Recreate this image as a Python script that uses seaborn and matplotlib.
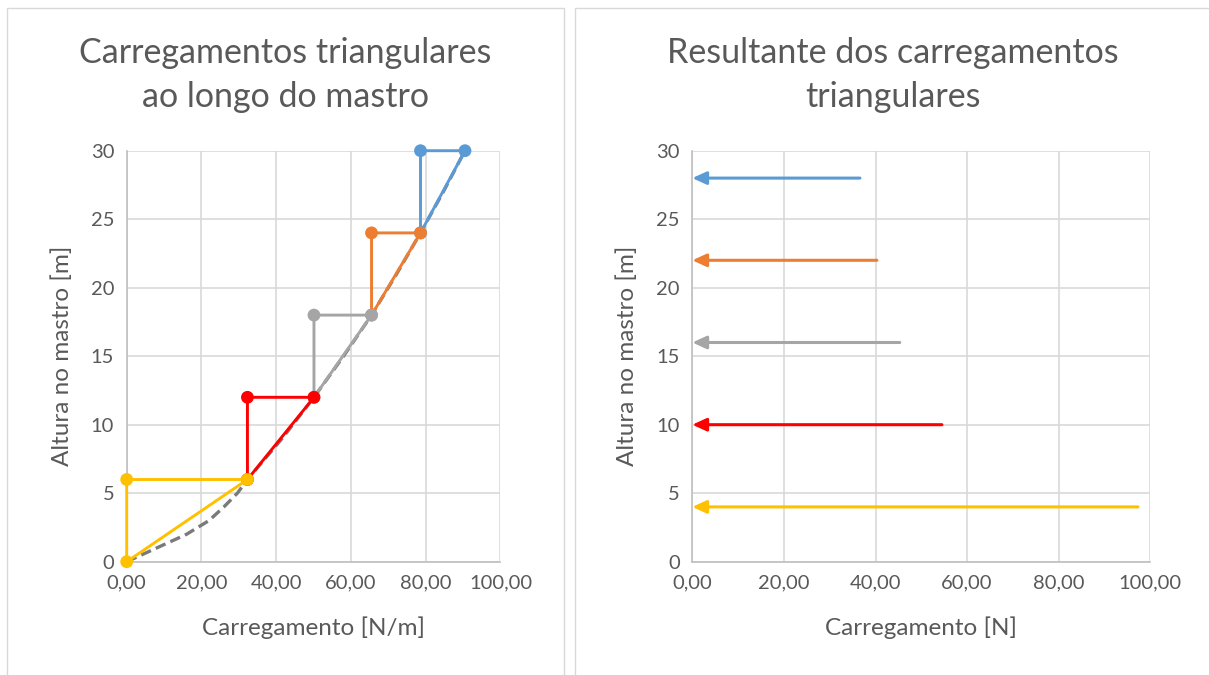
import matplotlib
matplotlib.use("Agg")
import matplotlib.pyplot as plt
from matplotlib.patches import Rectangle
from matplotlib.ticker import FuncFormatter, MultipleLocator
import seaborn as sns
import pandas as pd

# Wind load along the mast, sampled at the segment boundaries
heights = [0, 6, 12, 18, 24, 30]
loads = [0.0, 32.3, 50.1, 65.5, 78.6, 90.5]
segment_colors = ["#FFC000", "#FF0000", "#A5A5A5", "#ED7D31", "#5B9BD5"]

# Continuous load profile (dashed curve)
profile_z = [0, 1, 2, 3, 4, 5, 6, 9, 12, 15, 18, 21, 24, 27, 30]
profile_q = [0.0, 8.0, 16.0, 22.0, 26.0, 29.6, 32.3, 41.6, 50.1, 58.0, 65.5, 72.2, 78.6, 84.7, 90.5]

# Resultant force of each triangular load and its application height
resultant_z = [4, 10, 16, 22, 28]
resultant_f = [97.3, 54.5, 45.3, 40.3, 36.6]

sns.set_theme(style="white")
plt.rcParams["font.family"] = ["Lato", "DejaVu Sans"]
TXT = "#595959"
GRID = "#D9D9D9"
AXIS = "#BFBFBF"

fig = plt.figure(figsize=(12.09, 6.75), dpi=100)
W, H = 1209, 675


def px_axes(x0, x1, y_top, y_bot):
    return fig.add_axes([x0 / W, 1 - y_bot / H, (x1 - x0) / W, (y_bot - y_top) / H])


# Chart panels
for (x0, x1) in [(7, 564), (575, 1213)]:
    fig.patches.append(Rectangle((x0 / W, -0.05), (x1 - x0) / W, (1 - 8 / H) + 0.05,
                                 transform=fig.transFigure, fill=False,
                                 edgecolor=GRID, linewidth=1.0, zorder=0))

ax1 = px_axes(126.7, 500.5, 150.7, 561.7)
ax2 = px_axes(692.3, 1150.3, 150.7, 561.7)


def style_axes(ax, xlabel):
    ax.set_xlim(0, 100)
    ax.set_ylim(0, 30)
    ax.xaxis.set_major_locator(MultipleLocator(20))
    ax.yaxis.set_major_locator(MultipleLocator(5))
    ax.xaxis.set_major_formatter(FuncFormatter(lambda v, p: f"{v:.2f}".replace(".", ",")))
    ax.yaxis.set_major_formatter(FuncFormatter(lambda v, p: f"{v:.0f}"))
    ax.grid(True, color=GRID, linewidth=1.2)
    ax.set_axisbelow(True)
    for s in ["top", "right"]:
        ax.spines[s].set_visible(False)
    for s in ["left", "bottom"]:
        ax.spines[s].set_color(AXIS)
        ax.spines[s].set_linewidth(1.2)
    ax.tick_params(axis="both", length=0, labelsize=14.5, labelcolor=TXT, pad=9)
    ax.set_xlabel(xlabel, fontsize=17.5, color=TXT, labelpad=18)
    ax.set_ylabel("Altura no mastro [m]", fontsize=17.5, color=TXT, labelpad=13)


# Left chart: dashed load profile
prof = pd.DataFrame({"q": profile_q, "z": profile_z})
sns.lineplot(data=prof, x="q", y="z", sort=False, estimator=None, ax=ax1,
             color="#7A7A7A", linewidth=2.4, linestyle=(0, (3.2, 1.6)), zorder=2)

# Left chart: one triangle per segment, drawn top to bottom
for i in reversed(range(len(heights) - 1)):
    zb, zt = heights[i], heights[i + 1]
    qb, qt = loads[i], loads[i + 1]
    tri = pd.DataFrame({"q": [qb, qb, qt, qb], "z": [zb, zt, zt, zb]})
    c = segment_colors[i]
    sns.lineplot(data=tri, x="q", y="z", sort=False, estimator=None, ax=ax1,
                 color=c, linewidth=2.1, zorder=3 + (5 - i))
    sns.scatterplot(data=tri.iloc[:3], x="q", y="z", ax=ax1, color=c, s=85,
                    edgecolor="none", zorder=3.5 + (5 - i))
for artist in ax1.lines + ax1.collections:
    artist.set_clip_on(False)

# Right chart: resultant arrows
res = pd.DataFrame({"f": resultant_f, "z": resultant_z})
for i, row in res.iterrows():
    c = segment_colors[i]
    ax2.annotate("", xy=(0, row["z"]), xytext=(row["f"], row["z"]),
                 arrowprops=dict(arrowstyle="-|>,head_length=0.7,head_width=0.32",
                                 color=c, lw=2.2, shrinkA=0, shrinkB=0),
                 annotation_clip=False)

style_axes(ax1, "Carregamento [N/m]")
style_axes(ax2, "Carregamento [N]")

fig.text(285.5 / W, 1 - 75 / H, "Carregamentos triangulares\nao longo do mastro",
         ha="center", va="center", fontsize=24.5, color=TXT, linespacing=1.45)
fig.text(893 / W, 1 - 75 / H, "Resultante dos carregamentos\ntriangulares",
         ha="center", va="center", fontsize=24.5, color=TXT, linespacing=1.45)

fig.savefig("out.png", dpi=100, facecolor="white")
